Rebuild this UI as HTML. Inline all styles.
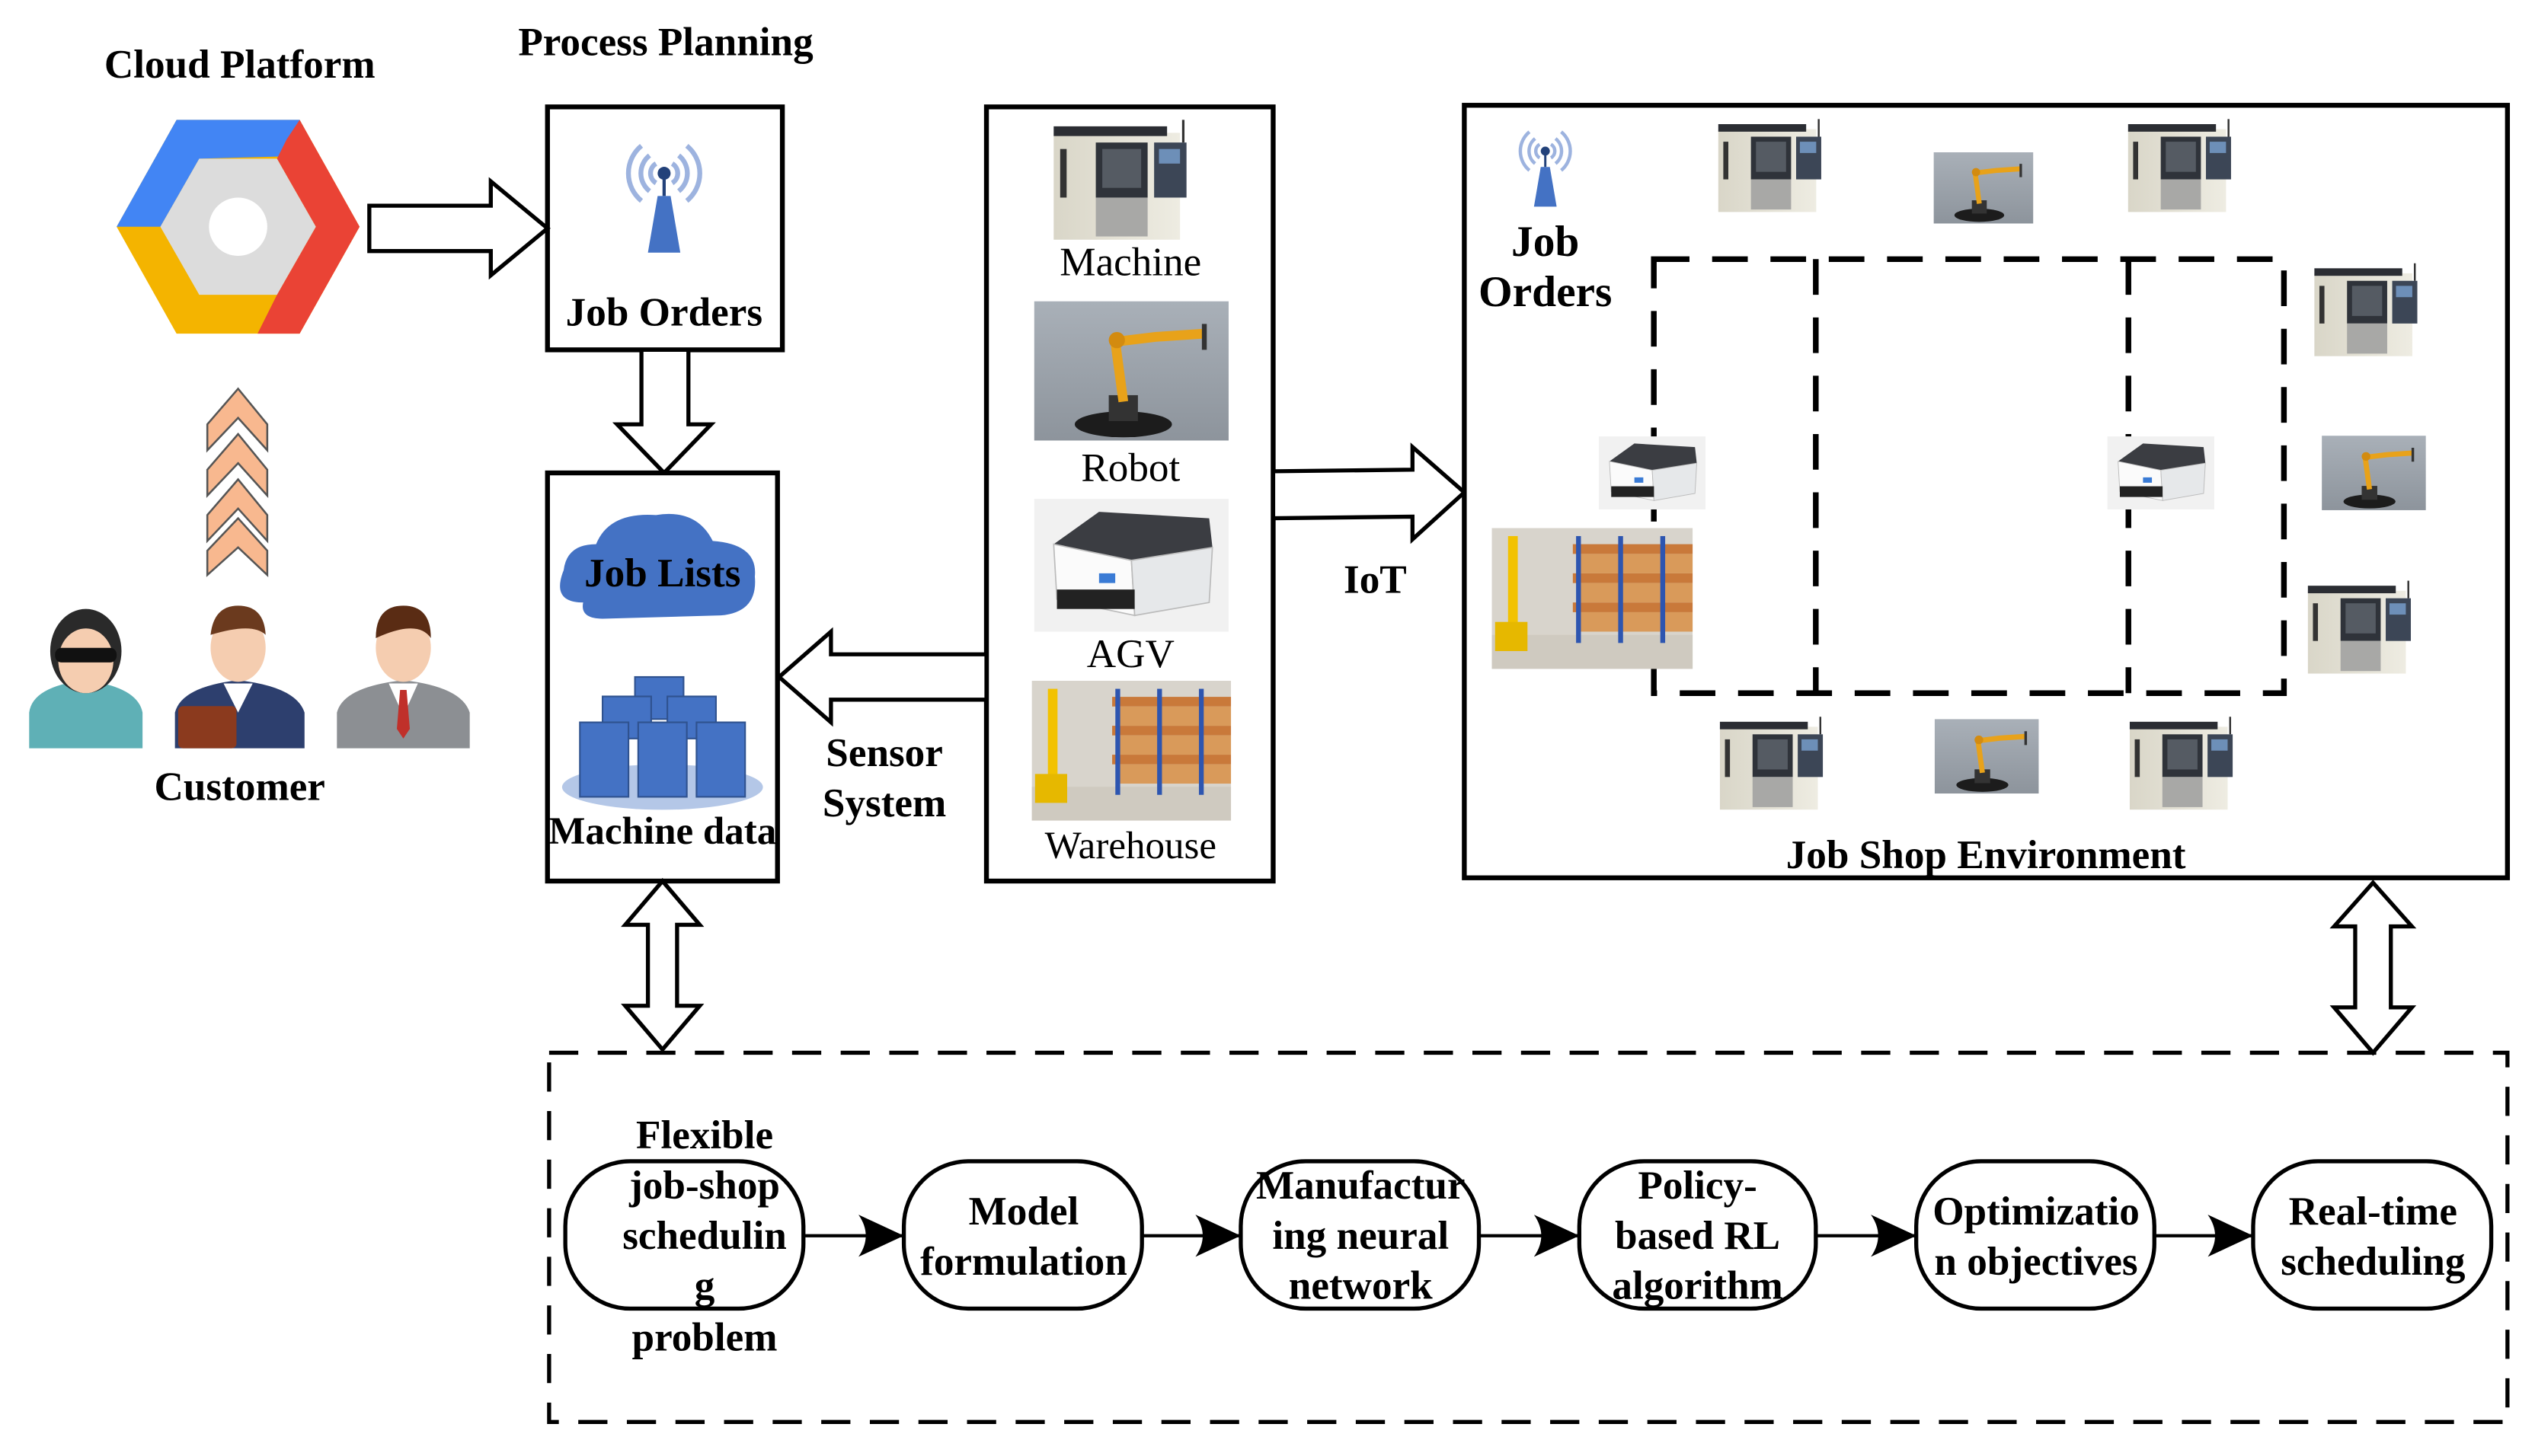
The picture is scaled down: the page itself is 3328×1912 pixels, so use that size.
<!DOCTYPE html>
<html><head><meta charset="utf-8"><style>
html,body{margin:0;padding:0;background:#fff;}
svg{display:block;}
text{font-family:"Liberation Serif",serif;font-weight:bold;fill:#000;}
</style></head><body>
<svg width="3328" height="1912" viewBox="0 0 1565 899" preserveAspectRatio="none" xmlns="http://www.w3.org/2000/svg">
<defs>
<linearGradient id="mg" x1="0" x2="1"><stop offset="0" stop-color="#d9d6c8"/><stop offset="1" stop-color="#eeece2"/></linearGradient>
<linearGradient id="rg" x1="0" y1="0" x2="0" y2="1"><stop offset="0" stop-color="#a9b0b8"/><stop offset="1" stop-color="#8d949c"/></linearGradient>
<symbol id="machine" viewBox="0 0 100 80">
<rect x="2" y="10" width="78" height="66" fill="url(#mg)"/>
<rect x="2" y="6" width="70" height="6" fill="#2b2d33"/>
<rect x="28" y="16" width="32" height="34" fill="#2f333a"/>
<rect x="32" y="20" width="24" height="24" fill="#555b63"/>
<rect x="28" y="50" width="32" height="24" fill="#a8a8a6"/>
<rect x="64" y="16" width="20" height="34" fill="#3c4656"/>
<rect x="67" y="20" width="13" height="9" fill="#6d8fb8"/>
<rect x="6" y="20" width="4" height="30" fill="#333"/>
<line x1="82" y1="2" x2="82" y2="16" stroke="#333" stroke-width="1.5"/>
</symbol>
<symbol id="robot" viewBox="0 0 120 86">
<rect width="120" height="86" fill="url(#rg)"/>
<ellipse cx="55" cy="76" rx="30" ry="8" fill="#1c1c1c"/>
<rect x="46" y="58" width="18" height="16" fill="#333"/>
<path d="M55 62 L50 25 L75 22 L105 20" stroke="#e8a21a" stroke-width="6" fill="none"/>
<circle cx="51" cy="24" r="5" fill="#d38b10"/>
<line x1="105" y1="14" x2="105" y2="30" stroke="#333" stroke-width="3"/>
</symbol>
<symbol id="agv" viewBox="0 0 120 82">
<rect width="120" height="82" fill="#f1f1f1"/>
<path d="M12 28 L40 8 L108 12 L110 30 L60 38 Z" fill="#3b3d42"/>
<path d="M12 28 L60 38 L62 72 L14 62 Z" fill="#fbfbfb" stroke="#bbb" stroke-width="0.8"/>
<path d="M60 38 L110 30 L108 64 L62 72 Z" fill="#e6e8ea" stroke="#bbb" stroke-width="0.8"/>
<rect x="14" y="56" width="48" height="12" fill="#222"/>
<rect x="40" y="46" width="10" height="6" fill="#3a7bd5"/>
</symbol>
<symbol id="wh" viewBox="0 0 124 87">
<rect width="124" height="87" fill="#d8d4cc"/>
<rect y="66" width="124" height="21" fill="#cfcac0"/>
<g fill="#c9793a"><rect x="50" y="10" width="74" height="6"/><rect x="50" y="28" width="74" height="6"/><rect x="50" y="46" width="74" height="6"/></g>
<g fill="#d99a5a"><rect x="54" y="16" width="70" height="12"/><rect x="54" y="34" width="70" height="12"/><rect x="54" y="52" width="70" height="12"/></g>
<g fill="#2d55b0"><rect x="52" y="5" width="3" height="66"/><rect x="78" y="5" width="3" height="66"/><rect x="104" y="5" width="3" height="66"/></g>
<rect x="10" y="5" width="6" height="70" fill="#f2c200"/>
<rect x="2" y="58" width="20" height="18" fill="#e6b800"/>
</symbol>
<symbol id="ant" viewBox="0 0 60 80">
<g fill="none" stroke="#9db3df" stroke-width="3">
<path d="M16 12 A22 22 0 0 0 16 46"/><path d="M44 12 A22 22 0 0 1 44 46"/>
<path d="M21 18 A14 14 0 0 0 21 40"/><path d="M39 18 A14 14 0 0 1 39 40"/>
<path d="M25 23 A7 7 0 0 0 25 35"/><path d="M35 23 A7 7 0 0 1 35 35"/>
</g>
<circle cx="30" cy="29" r="4" fill="#23427a"/>
<rect x="29" y="29" width="2" height="14" fill="#23427a"/>
<path d="M26 43 L34 43 L40 78 L20 78 Z" fill="#4472c4"/>
</symbol>
<marker id="ah" viewBox="0 0 28 26" refX="28" refY="13" markerWidth="28" markerHeight="26" markerUnits="userSpaceOnUse" orient="auto">
<path d="M0 0 L28 13 L0 26 Q9 13 0 0 Z" fill="#000"/>
</marker>
</defs>

<text x="148" y="48" font-size="25" text-anchor="middle">Cloud Platform</text>
<g transform="translate(147,140)">
<polygon points="-38,-66 38,-66 75,0 38,66 -38,66 -75,0" fill="#f4b400"/>
<polygon points="-38,-66 38,-66 50,-44 -24,-42 -48,0 -75,0" fill="#4285f4"/>
<polygon points="38,-66 75,0 38,66 12,66 24,42 48,0 24,-42 30,-54" fill="#ea4335"/>
<polygon points="-24,-42 24,-42 48,0 24,42 -24,42 -48,0" fill="#dcdcdc"/>
<circle r="18" fill="#fff"/>
</g>
<g fill="#f8b88f" stroke="#555" stroke-width="1.2">
<polygon points="128,262 147,240 165,262 165,278 147,258 128,278"/>
<polygon points="128,290 147,268 165,290 165,306 147,286 128,306"/>
<polygon points="128,318 147,296 165,318 165,334 147,314 128,334"/>
<polygon points="128,340 147,320 165,340 165,355 147,338 128,355"/>
</g>
<g>
<path d="M18 462 L18 440 Q20 424 52 420 Q85 424 88 440 L88 462 Z" fill="#5fb0b6"/>
<ellipse cx="53" cy="402" rx="22" ry="26" fill="#2a2a2a"/>
<ellipse cx="53" cy="408" rx="17" ry="20" fill="#f5cdb0"/>
<rect x="34" y="400" width="38" height="9" rx="4" fill="#111"/>
<path d="M108 462 L108 440 Q112 424 147 420 Q183 424 188 440 L188 462 Z" fill="#2d3f6e"/>
<path d="M138 422 L147 440 L156 422 Z" fill="#fff"/>
<ellipse cx="147" cy="400" rx="17" ry="21" fill="#f5cdb0"/>
<path d="M130 392 Q132 374 147 374 Q163 374 164 392 Q156 384 130 392 Z" fill="#6b3a1e"/>
<rect x="110" y="436" width="36" height="26" rx="3" fill="#8b3a1e"/>
<path d="M208 462 L208 440 Q212 424 249 420 Q285 424 290 440 L290 462 Z" fill="#8c8f93"/>
<path d="M240 422 L249 442 L258 422 Z" fill="#fff"/>
<path d="M247 426 L251 426 L253 450 L249 456 L245 450 Z" fill="#c0302a"/>
<ellipse cx="249" cy="400" rx="17" ry="21" fill="#f5cdb0"/>
<path d="M232 394 Q232 374 249 374 Q266 374 266 394 Q258 382 232 394 Z" fill="#5a2c14"/>
</g>
<text x="148" y="494" font-size="25" text-anchor="middle">Customer</text>

<text x="411" y="34" font-size="25" text-anchor="middle">Process Planning</text>
<rect x="338" y="66" width="145" height="150" fill="#fff" stroke="#000" stroke-width="3"/>
<use href="#ant" x="380" y="78" width="60" height="80"/>
<text x="410" y="201" font-size="25" text-anchor="middle">Job Orders</text>
<polygon points="228,127 303,127 303,112 338,141 303,170 303,155 228,155" fill="#fff" stroke="#000" stroke-width="2.5"/>
<polygon points="396,216 425,216 425,262 439,262 410,292 381,262 396,262" fill="#fff" stroke="#000" stroke-width="2.5"/>

<rect x="338" y="292" width="142" height="252" fill="#fff" stroke="#000" stroke-width="3"/>
<path d="M360 372 Q340 372 348 352 Q350 336 368 336 Q376 316 405 318 Q430 314 440 334 Q468 336 466 356 Q468 378 445 380 L372 382 Q358 382 360 372 Z" fill="#4472c4"/>
<text x="409" y="362" font-size="25" text-anchor="middle">Job Lists</text>
<ellipse cx="409" cy="486" rx="62" ry="14" fill="#b4c7e7"/>
<g fill="#4472c4" stroke="#2f528f" stroke-width="1">
<rect x="392" y="418" width="30" height="26"/><rect x="372" y="430" width="30" height="26"/><rect x="412" y="430" width="30" height="26"/>
<rect x="358" y="446" width="30" height="46"/><rect x="394" y="446" width="30" height="46"/><rect x="430" y="446" width="30" height="46"/>
</g>
<text x="409" y="521" font-size="24" text-anchor="middle">Machine data</text>

<rect x="609" y="66" width="177" height="478" fill="#fff" stroke="#000" stroke-width="3"/>
<use href="#machine" x="640" y="72" width="117" height="80"/>
<text x="698" y="170" font-size="25" text-anchor="middle" style="font-weight:normal">Machine</text>
<use href="#robot" x="637" y="186" width="123" height="86"/>
<text x="698" y="297" font-size="25" text-anchor="middle" style="font-weight:normal">Robot</text>
<use href="#agv" x="637" y="308" width="123" height="82"/>
<text x="698" y="412" font-size="25" text-anchor="middle" style="font-weight:normal">AGV</text>
<use href="#wh" x="637" y="420" width="123" height="87"/>
<text x="698" y="530" font-size="24" text-anchor="middle" style="font-weight:normal">Warehouse</text>

<polygon points="609,404 513,404 513,390 481,418 513,446 513,432 609,432" fill="#fff" stroke="#000" stroke-width="2.5"/>
<text x="546" y="473" font-size="25" text-anchor="middle">Sensor</text>
<text x="546" y="504" font-size="25" text-anchor="middle">System</text>
<polygon points="786,291 872,290 872,276 904,304 872,333 872,319 786,320" fill="#fff" stroke="#000" stroke-width="2.5"/>
<text x="849" y="366" font-size="25" text-anchor="middle">IoT</text>

<rect x="904" y="65" width="644" height="477" fill="#fff" stroke="#000" stroke-width="3"/>
<use href="#ant" x="933" y="72" width="42" height="58"/>
<text x="954" y="158" font-size="27" text-anchor="middle">Job</text>
<text x="954" y="189" font-size="27" text-anchor="middle">Orders</text>
<g fill="none" stroke="#000" stroke-width="3.5" stroke-dasharray="22,14">
<rect x="1021" y="160" width="389" height="268"/>
<line x1="1121" y1="160" x2="1121" y2="428"/>
<line x1="1314" y1="160" x2="1314" y2="428"/>
</g>
<use href="#machine" x="1050" y="72" width="96" height="62"/>
<use href="#machine" x="1303" y="72" width="96" height="62"/>
<use href="#robot" x="1192" y="94" width="65" height="44"/>
<use href="#machine" x="1418" y="161" width="96" height="62"/>
<use href="#robot" x="1433" y="269" width="65" height="46"/>
<use href="#machine" x="1414" y="357" width="96" height="62"/>
<use href="#agv" x="987" y="269" width="66" height="46"/>
<use href="#agv" x="1301" y="269" width="66" height="46"/>
<use href="#wh" x="921" y="326" width="124" height="87"/>
<use href="#machine" x="1051" y="441" width="96" height="62"/>
<use href="#robot" x="1194" y="444" width="65" height="46"/>
<use href="#machine" x="1304" y="441" width="96" height="62"/>
<text x="1226" y="536" font-size="25" text-anchor="middle">Job Shop Environment</text>

<polygon points="409,544 432,571 418,571 418,621 432,621 409,648 386,621 400,621 400,571 386,571" fill="#fff" stroke="#000" stroke-width="2.5"/>
<polygon points="1465,545 1489,572 1476,572 1476,622 1489,622 1465,650 1441,622 1454,622 1454,572 1441,572" fill="#fff" stroke="#000" stroke-width="2.5"/>

<rect x="339" y="650" width="1209" height="228" fill="none" stroke="#000" stroke-width="2.5" stroke-dasharray="18,12"/>
<g fill="#fff" stroke="#000" stroke-width="2.5">
<rect x="349" y="717" width="147" height="91" rx="40"/>
<rect x="558" y="717" width="147" height="91" rx="40"/>
<rect x="766" y="717" width="147" height="91" rx="40"/>
<rect x="975" y="717" width="146" height="91" rx="40"/>
<rect x="1183" y="717" width="147" height="91" rx="40"/>
<rect x="1391" y="717" width="147" height="91" rx="40"/>
</g>
<g stroke="#000" stroke-width="2" marker-end="url(#ah)">
<line x1="496" y1="763" x2="558" y2="763"/>
<line x1="705" y1="763" x2="766" y2="763"/>
<line x1="913" y1="763" x2="975" y2="763"/>
<line x1="1121" y1="763" x2="1183" y2="763"/>
<line x1="1330" y1="763" x2="1391" y2="763"/>
</g>
<g font-size="25" text-anchor="middle">
<text x="435" y="709">Flexible</text>
<text x="435" y="740">job-shop</text>
<text x="435" y="771">schedulin</text>
<text x="435" y="802">g</text>
<text x="435" y="834">problem</text>
<text x="632" y="756">Model</text>
<text x="632" y="787">formulation</text>
<text x="840" y="740">Manufactur</text>
<text x="840" y="771">ing neural</text>
<text x="840" y="802">network</text>
<text x="1048" y="740">Policy-</text>
<text x="1048" y="771">based RL</text>
<text x="1048" y="802">algorithm</text>
<text x="1257" y="756">Optimizatio</text>
<text x="1257" y="787">n objectives</text>
<text x="1465" y="756">Real-time</text>
<text x="1465" y="787">scheduling</text>
</g>
</svg>
</body></html>
